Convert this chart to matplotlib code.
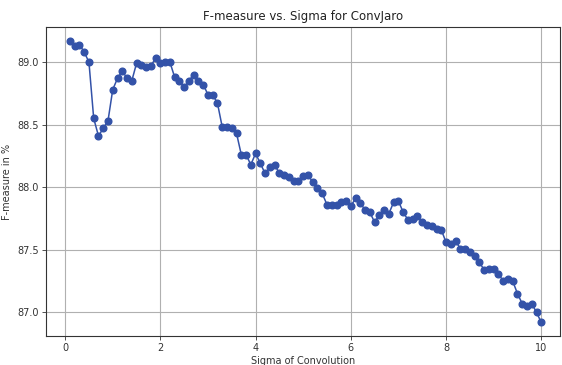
import matplotlib
matplotlib.use("Agg")
import matplotlib.pyplot as plt
import numpy as np

sigma = [round(0.1 * i, 1) for i in range(1, 101)]
fmeasure = [
    89.17, 89.13, 89.14, 89.08, 89.00, 88.55, 88.41, 88.47, 88.53, 88.78,
    88.87, 88.93, 88.87, 88.85, 88.99, 88.98, 88.96, 88.97, 89.03, 88.99,
    89.00, 89.00, 88.88, 88.85, 88.80, 88.85, 88.90, 88.85, 88.82, 88.74,
    88.74, 88.67, 88.48, 88.48, 88.47, 88.43, 88.26, 88.26, 88.18, 88.27,
    88.19, 88.11, 88.16, 88.18, 88.11, 88.10, 88.08, 88.05, 88.05, 88.09,
    88.10, 88.04, 87.99, 87.95, 87.86, 87.86, 87.86, 87.88, 87.89, 87.85,
    87.91, 87.87, 87.82, 87.80, 87.72, 87.78, 87.82, 87.79, 87.88, 87.89,
    87.80, 87.74, 87.75, 87.77, 87.72, 87.70, 87.69, 87.67, 87.66, 87.56,
    87.55, 87.57, 87.51, 87.51, 87.48, 87.45, 87.40, 87.34, 87.35, 87.35,
    87.31, 87.25, 87.27, 87.25, 87.15, 87.07, 87.05, 87.07, 87.00, 86.92,
]
xticks = [0, 2, 4, 6, 8, 10]
yticks = [87.0, 87.5, 88.0, 88.5, 89.0]

fig = plt.figure(figsize=(5.62, 3.65), dpi=100)
ax = fig.add_axes([0.082, 0.079, 0.915, 0.847])
ax.plot(sigma, fmeasure, color="#3352a8", marker="o", markersize=4.8, linewidth=1.1)
ax.set_xlim(-0.4, 10.4)
ax.set_ylim(86.81, 89.28)
ax.set_xticks(xticks)
ax.set_yticks(yticks)
ax.set_yticklabels([f"{v:.1f}" for v in yticks])
ax.grid(True, color="#b0b0b0", linewidth=0.8)
ax.set_axisbelow(True)
for s in ax.spines.values():
    s.set_color("#333333")
    s.set_linewidth(0.8)
ax.tick_params(labelsize=7, colors="#333333", length=3, width=0.6, pad=2)
ax.set_xlabel("Sigma of Convolution", fontsize=7, color="#333333", labelpad=2)
ax.set_ylabel("F-measure in %", fontsize=7, color="#333333", labelpad=4)
ax.set_title("F-measure vs. Sigma for ConvJaro", fontsize=8.5, color="#222222", pad=5)
fig.savefig("out.png", dpi=100)
